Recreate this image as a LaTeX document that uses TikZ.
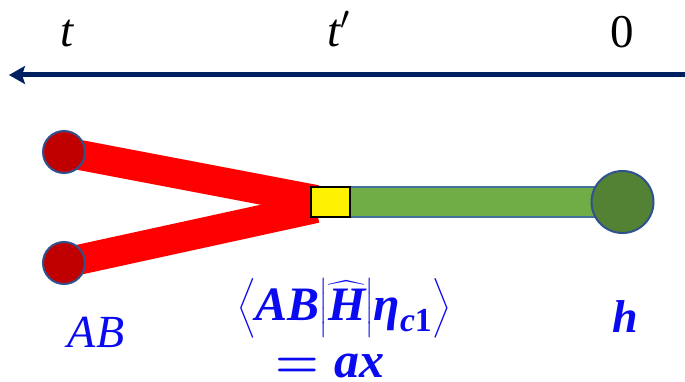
\RequirePackage{fix-cm}
\documentclass[tikz,border=0pt]{standalone}
\usepackage{amsmath}
\usepackage{fontspec}
\setmainfont{Liberation Serif}
\usetikzlibrary{arrows.meta}
\definecolor{navy}{HTML}{002060}
\definecolor{bandred}{HTML}{FF0000}
\definecolor{dotred}{HTML}{C00000}
\definecolor{rimblue}{HTML}{2F528F}
\definecolor{barblue}{HTML}{41719C}
\definecolor{bargreen}{HTML}{70AD47}
\definecolor{dotgreen}{HTML}{548235}
\definecolor{lblblue}{HTML}{0A0AF0}
\tikzset{
  timearrow/.style={draw=navy, line width=5pt, -{Stealth[length=16pt,width=18pt,inset=3pt]}},
  band/.style={draw=bandred, line width=30pt, line cap=butt},
  reddot/.style={circle, fill=dotred, draw=rimblue, line width=2pt, minimum size=42pt, inner sep=0pt},
  greendot/.style={circle, fill=dotgreen, draw=rimblue, line width=2pt, minimum size=62pt, inner sep=0pt},
  vertexbox/.style={rectangle, fill=yellow, draw=black, line width=1.8pt, minimum width=39pt, minimum height=30pt, inner sep=0pt},
  greenbar/.style={rectangle, fill=bargreen, draw=barblue, line width=1.5pt, minimum width=252pt, minimum height=30pt, inner sep=0pt},
  toplbl/.style={anchor=base, inner sep=0pt, font=\fontsize{47}{56}\selectfont\itshape},
  botlbl/.style={anchor=base, inner sep=0pt, text=lblblue, font=\fontsize{46}{55}\selectfont},
  formlbl/.style={botlbl, font=\fontsize{48}{57}\selectfont\boldmath},
}
\begin{document}
\begin{tikzpicture}[x=1pt,y=-1pt]
\useasboundingbox (0,0) rectangle (685,382);
% time axis
\coordinate (ar) at (685,75);
\coordinate (al) at (9,75);
\draw[timearrow] (ar) -- (al);
\node[toplbl] (lt) at (67,47) {t};
\node[toplbl] (ltp) at (339,47) {$\text{\itshape t}'$};
\node[toplbl, font=\fontsize{47}{56}\selectfont] (l0) at (622,48) {0};
% diagram
\coordinate (pa) at (64,152);
\coordinate (pb) at (64,263);
\coordinate (ja) at (316,200);
\coordinate (jb) at (316,208);
\draw[band] (pa) -- (ja);
\draw[band] (pb) -- (jb);
\node[reddot] (a) at (pa) {};
\node[reddot] (b) at (pb) {};
\node[greenbar] (bar) at (475,202) {};
\node[vertexbox] (v) at (330.5,202) {};
\node[greendot] (h) at (622.5,202) {};
% labels
\node[botlbl] (lab) at (96,347) {\itshape AB};
\node[formlbl] (lf1) at (344,320) {$\bigl\langle\text{\bfseries\itshape AB}\big|\widehat{\text{\bfseries\itshape H}}\big|\text{\bfseries\itshape η}_{\text{\bfseries\itshape c}\text{\bfseries 1}}\bigr\rangle$};
\node[formlbl, font=\fontsize{50}{60}\selectfont\boldmath] (lf2) at (330,377) {$=\text{\bfseries\itshape ax}$};
\node[botlbl] (lh) at (625,332) {\bfseries\itshape h};
\end{tikzpicture}
\end{document}
